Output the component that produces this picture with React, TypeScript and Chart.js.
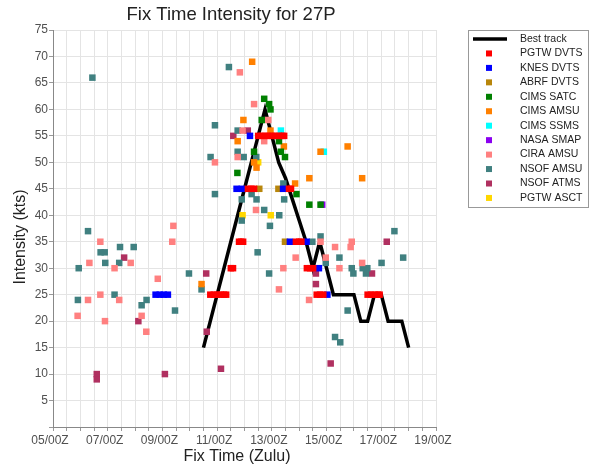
import React, { useEffect, useRef } from "react";
import { Chart, registerables } from "chart.js";

Chart.register(...registerables);

const TITLE = "Fix Time Intensity for 27P";
const X_TITLE = "Fix Time (Zulu)";
const Y_TITLE = "Intensity (kts)";
const START_DAY = 5; // x = 0 is 05/00Z, x in days
const X_MAX = 14;
const Y_MAX = 75;
const Y_STEP = 5;
const X_GRID_STEP = 0.5;
const X_LABEL_EVERY = 2;

type P = [number, number];

// [day offset from 05/00Z, knots]
const bestTrack: P[] = [
  [5.5, 15], [5.75, 20], [6, 25], [6.25, 30], [6.5, 35], [6.75, 40], [7, 45], [7.25, 50],
  [7.5, 55], [7.75, 60], [8, 55], [8.25, 50], [8.5, 47], [8.75, 43], [9, 39], [9.25, 35],
  [9.5, 30], [9.75, 35], [10, 30], [10.25, 25], [10.5, 25], [10.75, 25], [11, 25],
  [11.25, 20], [11.5, 20], [11.75, 25], [12, 25], [12.25, 20], [12.5, 20], [12.75, 20], [13, 15],
];

const pgtwDvts: P[] = [
  [5.75, 25], [5.875, 25], [6.0, 25], [6.125, 25], [6.25, 25], [6.33, 25],
  [6.5, 30], [6.58, 30],
  [6.8, 35], [6.875, 35], [6.95, 35],
  [7.125, 45], [7.25, 45], [7.35, 45],
  [7.5, 55], [7.625, 55], [7.75, 55], [7.875, 55], [8.0, 55], [8.125, 55], [8.25, 55], [8.375, 55], [8.45, 55],
  [8.625, 45], [8.7, 45],
  [8.88, 35], [9.0, 35], [9.08, 35],
  [9.28, 30], [9.4, 30], [9.51, 30],
  [9.64, 25], [9.76, 25], [9.88, 25],
  [11.5, 25], [11.625, 25], [11.75, 25], [11.875, 25], [11.94, 25],
];

const knesDvts: P[] = [
  [3.75, 25], [3.9, 25], [4.05, 25], [4.2, 25],
  [6.71, 45], [6.9, 45], [7.2, 55], [8.41, 45], [8.66, 35], [9.27, 35], [9.72, 30], [10.03, 25],
];

const abrfDvts: P[] = [[7.54, 45], [8.24, 45], [8.48, 35]];

const cimsSatc: P[] = [
  [7.72, 62], [7.9, 61], [7.95, 60], [7.63, 58], [8.26, 54], [7.35, 52], [8.33, 52],
  [8.48, 51], [6.74, 48], [8.9, 44], [9.37, 42], [9.78, 42],
];

const cimsAmsu: P[] = [
  [7.28, 69], [6.96, 58], [7.95, 56], [6.75, 54], [8.44, 53], [7.35, 50], [7.44, 49],
  [9.37, 47], [11.3, 47], [8.85, 46], [10.77, 53], [9.78, 52], [5.43, 27],
];

const cimsSsms: P[] = [[8.33, 56], [9.9, 52]];

const nasaSmap: P[] = [[9.84, 42]];

const ciraAmsu: P[] = [
  [6.83, 67], [7.35, 61], [7.87, 58], [6.93, 56], [7.72, 54], [6.75, 51], [5.92, 50], [7.42, 41],
  [4.4, 38], [4.36, 35], [1.73, 35], [1.33, 31], [2.25, 30], [2.84, 31], [3.83, 28], [1.73, 25],
  [1.28, 24], [2.42, 24], [0.9, 21], [3.24, 21], [1.9, 20], [3.41, 18],
  [8.87, 32], [8.42, 30], [8.26, 26], [9.36, 24], [9.78, 35], [9.97, 32], [10.31, 34],
  [10.47, 30], [10.92, 35], [10.88, 34], [11.3, 31],
];

const nsofAmsu: P[] = [
  [1.44, 66], [1.28, 37], [1.74, 33], [1.89, 33], [1.91, 31], [2.45, 34], [2.95, 34], [2.42, 31],
  [0.94, 30], [2.25, 25], [0.91, 24], [3.42, 24], [3.24, 23], [4.46, 22], [4.97, 29], [5.43, 26],
  [6.43, 68], [5.92, 57], [6.75, 56], [6.75, 52], [5.76, 51], [6.97, 51], [7.43, 51], [5.92, 44],
  [7.26, 44], [6.9, 43], [7.44, 43], [8.45, 43], [8.42, 46], [7.72, 41], [8.27, 40], [6.9, 39],
  [7.93, 38], [7.48, 33], [7.9, 29],
  [9.48, 35], [9.78, 36], [9.97, 31], [10.47, 32], [10.92, 30], [10.98, 29], [11.32, 30],
  [11.49, 30], [11.44, 29], [12.01, 31], [12.48, 37], [12.8, 32], [10.77, 22], [10.31, 17], [10.5, 16],
];

const nsofAtms: P[] = [
  [1.6, 10], [1.6, 9], [2.6, 32], [3.12, 20], [4.09, 10], [5.6, 29], [5.62, 18], [6.14, 11],
  [6.59, 55], [7.12, 56], [9.61, 29], [9.61, 27], [10.15, 12], [11.66, 29], [12.2, 35],
];

const pgtwAsct: P[] = [[6.93, 40], [7.96, 40], [7.5, 50]];

const SOURCE_LABELS = [
  "PGTW DVTS", "KNES DVTS", "ABRF DVTS", "CIMS SATC", "CIMS AMSU", "CIMS SSMS",
  "NASA SMAP", "CIRA AMSU", "NSOF AMSU", "NSOF ATMS", "PGTW ASCT",
];
const SOURCE_DATA = [
  pgtwDvts, knesDvts, abrfDvts, cimsSatc, cimsAmsu, cimsSsms,
  nasaSmap, ciraAmsu, nsofAmsu, nsofAtms, pgtwAsct,
];
const SOURCE_COLORS = [
  "#ff0000", "#0000ff", "#b8860b", "#008000", "#ff8000", "#00ffff",
  "#8a00f0", "#ff8080", "#408080", "#b03060", "#ffd700",
];
const BEST_TRACK_LABEL = "Best track";

const FONT = "'Liberation Sans', Arial, Helvetica, sans-serif";

const textPlugin = {
  id: "textAndLegend",
  afterDraw(chart: any) {
    const ctx = chart.ctx as CanvasRenderingContext2D;
    const a = chart.chartArea;
    ctx.save();
    // title
    ctx.fillStyle = "#222";
    ctx.textAlign = "center";
    ctx.textBaseline = "middle";
    ctx.font = `18.5px ${FONT}`;
    ctx.fillText(TITLE, 231, 15);
    // x title
    ctx.font = `16px ${FONT}`;
    ctx.fillText(X_TITLE, 237, 457);
    // y title
    ctx.save();
    ctx.translate(21, 237);
    ctx.rotate(-Math.PI / 2);
    ctx.fillText(Y_TITLE, 0, 0);
    ctx.restore();

    // legend
    const lx = a.right + 32;
    const ly = a.top;
    const lw = 120;
    const lh = 177;
    ctx.strokeStyle = "#999";
    ctx.lineWidth = 1;
    ctx.strokeRect(lx + 0.5, ly + 0.5, lw, lh);
    const rowH = 14.45;
    const firstY = ly + 9;
    ctx.font = `10.5px ${FONT}`;
    ctx.textAlign = "left";
    ctx.fillStyle = "#222";
    ctx.strokeStyle = "#000";
    ctx.lineWidth = 3.5;
    ctx.beginPath();
    ctx.moveTo(lx + 5, firstY);
    ctx.lineTo(lx + 39, firstY);
    ctx.stroke();
    ctx.fillText(BEST_TRACK_LABEL, lx + 52, firstY);
    SOURCE_LABELS.forEach((lab, i) => {
      const y = firstY + rowH * (i + 1);
      ctx.fillStyle = SOURCE_COLORS[i];
      ctx.fillRect(lx + 18, y - 3, 6, 6);
      ctx.fillStyle = "#222";
      ctx.fillText(lab, lx + 52, y);
    });
    ctx.restore();
  },
};

export default function App() {
  const ref = useRef<HTMLCanvasElement | null>(null);
  useEffect(() => {
    if (!ref.current) return;
    Chart.defaults.font.family = FONT;
    const datasets: any[] = SOURCE_LABELS.map((lab, i) => ({
      type: "scatter",
      label: lab,
      order: i,
      data: SOURCE_DATA[i].map(([x, y]) => ({ x, y })),
      backgroundColor: SOURCE_COLORS[i],
      borderWidth: 0,
      pointStyle: "rect",
      pointRadius: 4.6,
      pointHoverRadius: 4.6,
    }));
    datasets.push({
      type: "line",
      label: BEST_TRACK_LABEL,
      order: 100,
      data: bestTrack.map(([x, y]) => ({ x, y })),
      borderColor: "#000",
      borderWidth: 3.5,
      pointRadius: 0,
      fill: false,
      tension: 0,
      borderJoinStyle: "miter",
    });
    const chart = new Chart(ref.current, {
      type: "scatter",
      data: { datasets },
      options: {
        animation: false,
        responsive: true,
        maintainAspectRatio: false,
        layout: { padding: { top: 30, right: 158, left: 0, bottom: 0 } },
        plugins: { legend: { display: false }, tooltip: { enabled: false }, title: { display: false } },
        scales: {
          x: {
            type: "linear",
            min: 0,
            max: X_MAX,
            afterFit: (s: any) => { s.height = 43; },
            grid: { color: "#e4e4e4", lineWidth: 1, tickLength: 4, tickColor: "#999" },
            border: { color: "#888", width: 1 },
            ticks: {
              stepSize: X_GRID_STEP,
              autoSkip: false,
              maxTicksLimit: 100,
              maxRotation: 0,
              minRotation: 0,
              padding: 2,
              labelOffset: -3,
              color: "#505050",
              font: { size: 12, family: FONT },
              callback: (v: any) => {
                const n = Number(v);
                if (Math.abs(n % X_LABEL_EVERY) > 1e-6) return "";
                return `${String(START_DAY + n).padStart(2, "0")}/00Z`;
              },
            },
          },
          y: {
            type: "linear",
            min: 0,
            max: Y_MAX,
            afterFit: (s: any) => { s.width = 53; },
            grid: { color: "#e4e4e4", lineWidth: 1, tickLength: 4, tickColor: "#999" },
            border: { color: "#888", width: 1 },
            ticks: {
              stepSize: Y_STEP,
              padding: 1,
              color: "#505050",
              font: { size: 12, family: FONT },
              callback: (v: any) => (Number(v) === 0 ? "" : String(v)),
            },
          },
        },
      },
      plugins: [textPlugin],
    });
    return () => chart.destroy();
  }, []);
  return (
    <div style={{ position: "absolute", left: 0, top: 0, width: 594, height: 470, background: "#fff" }}>
      <canvas ref={ref} />
    </div>
  );
}
